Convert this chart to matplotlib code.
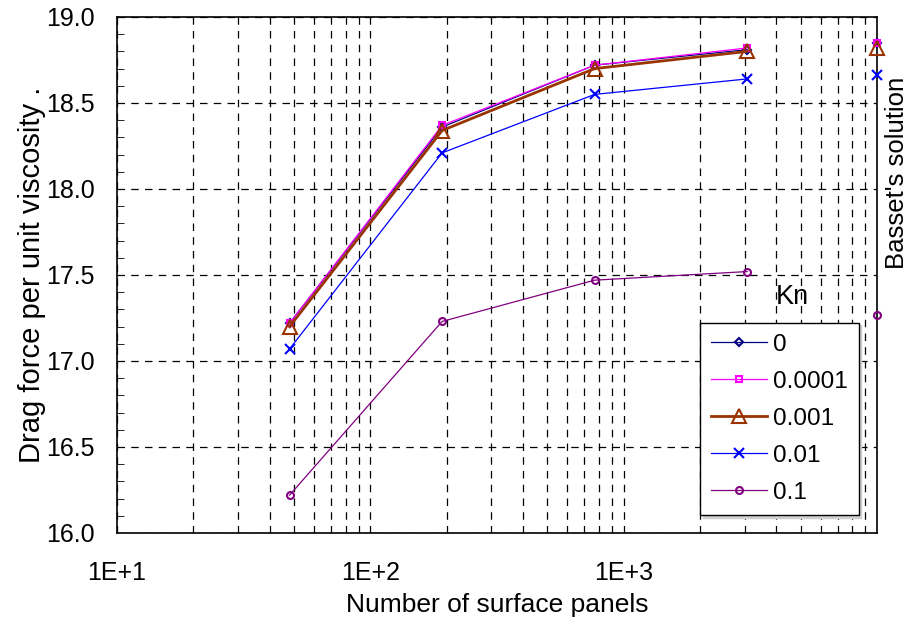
import numpy as np
import matplotlib
matplotlib.use("Agg")
import matplotlib.pyplot as plt
from matplotlib.ticker import LogLocator, FixedLocator, FixedFormatter, MultipleLocator

plt.rcParams['font.family'] = ['Liberation Sans', 'DejaVu Sans']

# data
panels = [48, 192, 768, 3072]
basset_x = 10000
kn_labels = ['0', '0.0001', '0.001', '0.01', '0.1']
drag_kn0 = [17.22, 18.36, 18.72, 18.81]
drag_kn1e4 = [17.22, 18.37, 18.72, 18.82]
drag_kn1e3 = [17.20, 18.34, 18.70, 18.80]
drag_kn1e2 = [17.07, 18.21, 18.55, 18.64]
drag_kn1e1 = [16.22, 17.23, 17.47, 17.52]
basset = [18.85, 18.85, 18.82, 18.66, 17.27]

series = [drag_kn0, drag_kn1e4, drag_kn1e3, drag_kn1e2, drag_kn1e1]
colors = ['#000080', '#FF00FF', '#993300', '#0000FF', '#800080']
markers = ['D', 's', '^', 'x', 'o']
msizes = [4, 5, 10, 7, 5]
lwidths = [0.9, 0.9, 2.0, 0.9, 0.9]

fig = plt.figure(figsize=(9.1, 6.24), dpi=100)
ax = fig.add_axes([117/910, 1 - 533/624, 760/910, 516/624])

for ys, c, m, ms, lw, lab in zip(series, colors, markers, msizes, lwidths, kn_labels):
    mfc = c if m == 'x' else 'none'
    ax.plot(panels, ys, color=c, marker=m, ms=ms, lw=lw, mfc=mfc, mec=c,
            mew=1.5, label=lab, zorder=3)

# Basset's solution markers on the right edge
for b, c, m, ms in zip(basset, colors, markers, msizes):
    mfc = c if m == 'x' else 'none'
    ax.plot([basset_x], [b], color=c, marker=m, ms=ms, mfc=mfc, mec=c,
            mew=1.5, ls='none', clip_on=False, zorder=4)

ax.set_xscale('log')
ax.set_xlim(10, 10000)
ax.set_ylim(16, 19)

ax.xaxis.set_major_locator(FixedLocator([10, 100, 1000]))
ax.xaxis.set_major_formatter(FixedFormatter(['1E+1', '1E+2', '1E+3']))
ax.xaxis.set_minor_locator(LogLocator(base=10, subs=np.arange(2, 10)))
ax.xaxis.set_minor_formatter(plt.NullFormatter())
ax.yaxis.set_major_locator(MultipleLocator(0.5))
ax.yaxis.set_minor_locator(MultipleLocator(0.1))
ax.yaxis.set_major_formatter(plt.FormatStrFormatter('%.1f'))

ax.tick_params(axis='both', which='both', direction='in', labelsize=18)
ax.tick_params(axis='x', which='major', length=0, pad=20)
ax.tick_params(axis='x', which='minor', length=5)
ax.tick_params(axis='y', which='major', length=0, pad=16)
ax.tick_params(axis='y', which='minor', length=5)

ax.grid(True, which='major', axis='both', color='black', ls=(0, (6, 5)), lw=0.9)
ax.grid(True, which='minor', axis='x', color='black', ls=(0, (6, 5)), lw=0.9)
ax.set_axisbelow(True)
for s in ax.spines.values():
    s.set_linewidth(1.2)

ax.set_xlabel('Number of surface panels', fontsize=19, labelpad=6)
ax.set_ylabel('Drag force per unit viscosity .', fontsize=21, labelpad=0)

ax.text(1.01, 0.698, "Basset's solution", transform=ax.transAxes, rotation=90,
        fontsize=18.5, ha='left', va='center')

leg = ax.legend(loc='lower left', bbox_to_anchor=(0.767, 0.035), fontsize=17.5,
                frameon=True, fancybox=False, edgecolor='black', framealpha=1,
                handlelength=2.3, handletextpad=0.25, labelspacing=0.62,
                borderpad=0.45, borderaxespad=0,
                shadow={'color': '#d0d0d0', 'alpha': 1})
leg.get_frame().set_linewidth(1.0)
ax.text(0.889, 0.457, 'Kn', transform=ax.transAxes, fontsize=19.5,
        ha='center', va='center')

fig.savefig('out.png', dpi=100)
